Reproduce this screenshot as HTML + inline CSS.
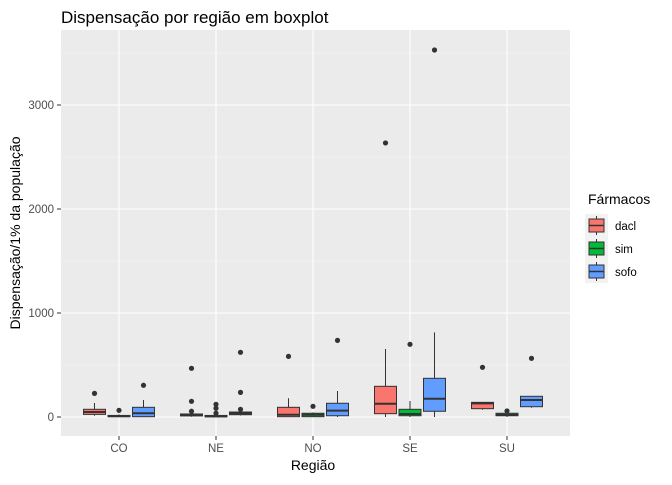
<!DOCTYPE html>
<html><head><meta charset="utf-8"><style>
body{margin:0;background:#fff;font-family:"Liberation Sans",sans-serif;}
</style></head><body>
<svg width="672" height="480" xmlns="http://www.w3.org/2000/svg" id="chart" font-family="Liberation Sans, sans-serif">
<text x="61" y="23" font-size="17" fill="#000">Dispensação por região em boxplot</text>
<rect x="61" y="30" width="509" height="406" fill="#ebebeb"/>
<g id="grid"></g><g id="boxes"></g><g id="axes"></g>
<text x="313" y="470" font-size="14" text-anchor="middle" fill="#000">Região</text>
<text transform="translate(20,233) rotate(-90)" font-size="14" text-anchor="middle" fill="#000">Dispensação/1% da população</text>
<g>
<text x="588" y="204" font-size="14" fill="#000">Fármacos</text>
<g id="legend"></g></g>
</svg>
<script>
const categories=["CO","NE","NO","SE","SU"];
const series=["dacl","sim","sofo"];
const colors=["#f8766d","#00ba38","#619cff"];
// [whiskerLow,q1,median,q3,whiskerHigh] per category per series
const daclStats=[[12,25,48,74,135],[2,10,20,29,45],[0,3,22,93,180],[0,32,128,295,654],[70,80,131,141,141]];
const simStats=[[0,3,8,15,25],[0,3,6,15,25],[0,3,22,36,45],[0,12,29,74,154],[0,12,20,36,40]];
const sofoStats=[[0,3,36,93,163],[15,22,35,48,60],[0,12,61,132,250],[0,55,176,372,814],[89,99,163,199,199]];
const daclOut=[[227],[468,151,55],[583],[2635],[478]];
const simOut=[[64],[122,84,36],[103],[699],[58]];
const sofoOut=[[305],[622,237,74],[737],[3529],[564]];
const yTicks=[0,1000,2000,3000];
const yMinor=[500,1500,2500,3500];
const stats=[daclStats,simStats,sofoStats],outs=[daclOut,simOut,sofoOut];
const NS="http://www.w3.org/2000/svg";
const y=v=>417-v*0.104;
const x=i=>119+i*97;
function mk(t,a,p){const e=document.createElementNS(NS,t);for(const k in a)e.setAttribute(k,a[k]);p.appendChild(e);return e;}
const g=document.getElementById('grid'),b=document.getElementById('boxes'),ax=document.getElementById('axes'),lg=document.getElementById('legend');
yMinor.forEach(v=>{const l=mk('line',{x1:61,x2:570,y1:y(v),y2:y(v),stroke:'#f5f5f5','stroke-width':0.6},g);

});
yTicks.forEach(v=>{const l=mk('line',{x1:61,x2:570,y1:y(v),y2:y(v),stroke:'#fff','stroke-width':1.1},g);


const t=mk('text',{x:54,y:y(v)+4,'font-size':11.5,'text-anchor':'end',fill:'#4d4d4d'},ax);t.textContent=v;


mk('line',{x1:57,x2:61,y1:y(v),y2:y(v),stroke:'#333'},ax);});
categories.forEach((c,i)=>{const l=mk('line',{x1:x(i),x2:x(i),y1:30,y2:436,stroke:'#fff','stroke-width':1.1},g);


mk('line',{x1:x(i),x2:x(i),y1:436,y2:440,stroke:'#333'},ax);
const t=mk('text',{x:x(i),y:452,'font-size':11.5,'text-anchor':'middle',fill:'#4d4d4d'},ax);t.textContent=c;


series.forEach((s,j)=>{const cx=x(i)+(j-1)*24.5,w=22,st=stats[j][i];
const gg=mk('g',{},b);


mk('line',{x1:cx,x2:cx,y1:y(st[0]),y2:y(st[4]),stroke:'#333','stroke-width':1},gg);
mk('rect',{x:cx-w/2,y:y(st[3]),width:w,height:Math.max(y(st[1])-y(st[3]),0.5),fill:colors[j],stroke:'#333','stroke-width':1},gg);
mk('line',{x1:cx-w/2,x2:cx+w/2,y1:y(st[2]),y2:y(st[2]),stroke:'#333','stroke-width':2},gg);
outs[j][i].forEach(o=>{const p=mk('circle',{cx:cx,cy:y(o),r:2.6,fill:'#333'},gg);

});});});
series.forEach((s,j)=>{const yy=214+j*23;
const e=mk('g',{},lg);


mk('rect',{x:585,y:yy,width:23,height:23,fill:'#f2f2f2'},e);
mk('line',{x1:596.5,x2:596.5,y1:yy+2,y2:yy+21,stroke:'#333'},e);
mk('rect',{x:589,y:yy+5,width:15,height:13,fill:colors[j],stroke:'#333'},e);
mk('line',{x1:589,x2:604,y1:yy+11.5,y2:yy+11.5,stroke:'#333','stroke-width':1.5},e);
const t=mk('text',{x:615,y:yy+16,'font-size':11.5,fill:'#000'},e);t.textContent=s;});
</script>
</body></html>
